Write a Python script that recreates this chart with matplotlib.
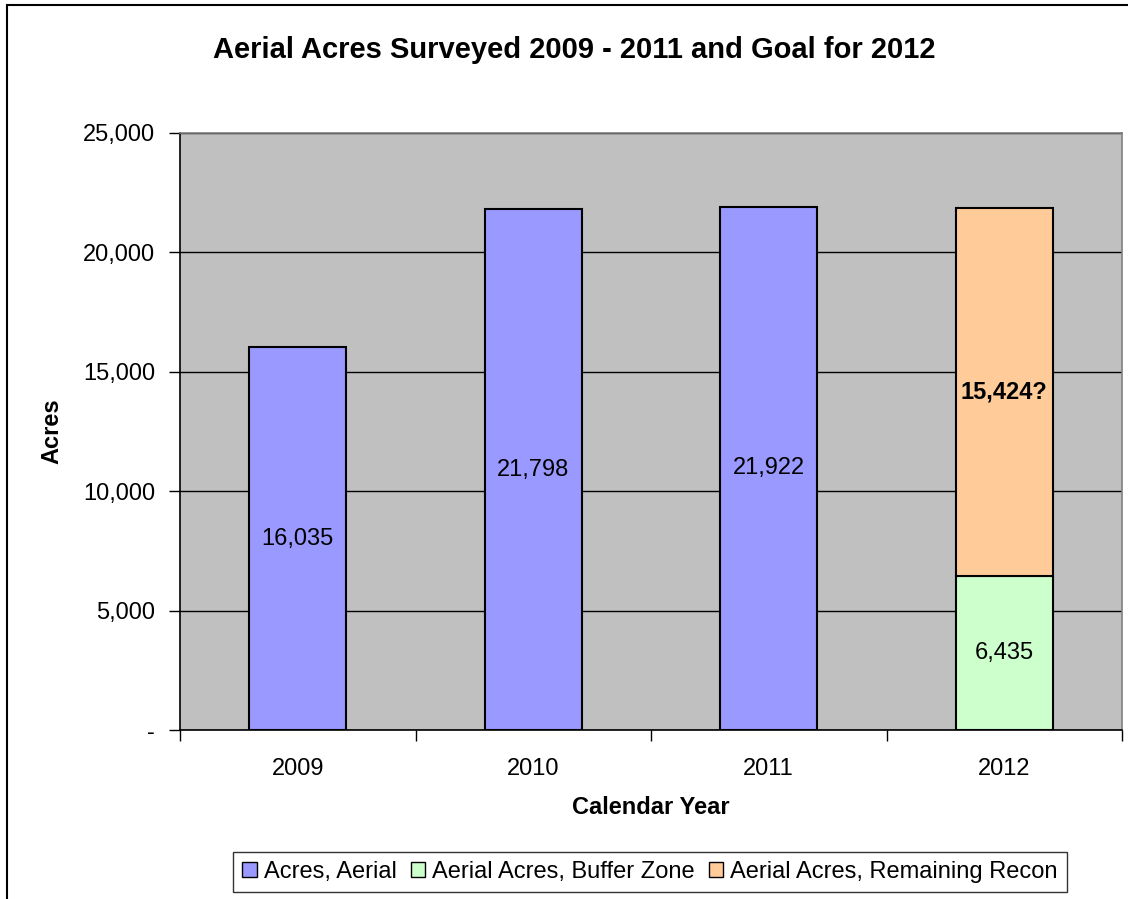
import matplotlib.pyplot as plt
from matplotlib.patches import Rectangle
from matplotlib.ticker import FuncFormatter, FixedLocator
import numpy as np

plt.rcParams['font.family'] = ['Liberation Sans', 'DejaVu Sans']

years = ['2009', '2010', '2011', '2012']
acres_aerial = [16035, 21798, 21922, 0]
buffer_zone = [0, 0, 0, 6435]
remaining_recon = [0, 0, 0, 15424]

c_aerial = '#9999FF'
c_buffer = '#CCFFCC'
c_recon = '#FFCC99'

fig = plt.figure(figsize=(11.28, 8.99), dpi=100)
ax = fig.add_axes([180 / 1128, 1 - 730 / 899, 942 / 1128, 597 / 899])
ax.set_facecolor('#C0C0C0')

x = np.arange(len(years))
w = 0.41
kw = dict(width=w, edgecolor='black', linewidth=1.5, zorder=3)
b1 = ax.bar(x[:3], acres_aerial[:3], color=c_aerial, label='Acres, Aerial', **kw)
b2 = ax.bar(x[3], buffer_zone[3], color=c_buffer, label='Aerial Acres, Buffer Zone', **kw)
b3 = ax.bar(x[3], remaining_recon[3], bottom=buffer_zone[3], color=c_recon,
            label='Aerial Acres, Remaining Recon', **kw)

# value labels in the middle of each segment
for i in range(3):
    ax.text(x[i], acres_aerial[i] / 2, f'{acres_aerial[i]:,}', ha='center', va='center',
            fontsize=17, zorder=4)
ax.text(x[3], buffer_zone[3] / 2, f'{buffer_zone[3]:,}', ha='center', va='center',
        fontsize=17, zorder=4)
ax.text(x[3], buffer_zone[3] + remaining_recon[3] / 2, f'{remaining_recon[3]:,}?',
        ha='center', va='center', fontsize=17, fontweight='bold', zorder=4)

ax.set_xlim(-0.5, 3.5)
ax.set_ylim(0, 25000)
ax.set_yticks(np.arange(0, 25001, 5000))
ax.yaxis.set_major_formatter(FuncFormatter(lambda v, p: '-' if v == 0 else f'{int(v):,}'))
ax.grid(axis='y', color='black', linewidth=1, zorder=1)
ax.set_axisbelow(True)

ax.set_xticks(x)
ax.set_xticklabels(years)
ax.xaxis.set_minor_locator(FixedLocator(np.arange(-0.5, 3.6, 1)))
ax.tick_params(axis='x', which='major', length=0, labelsize=17, pad=20)
ax.tick_params(axis='x', which='minor', length=8, width=1, direction='out')
ax.tick_params(axis='y', length=8, width=1, direction='out', labelsize=17, pad=10)

for s in ['top', 'right']:
    ax.spines[s].set_color('#808080')
    ax.spines[s].set_linewidth(1.2)
ax.spines['left'].set_linewidth(1.2)
ax.spines['bottom'].set_linewidth(1.2)

ax.set_xlabel('Calendar Year', fontsize=17, fontweight='bold', labelpad=12)
ax.set_ylabel('Acres', fontsize=17, fontweight='bold', labelpad=14)

fig.text(574 / 1128, 1 - 50 / 899, 'Aerial Acres Surveyed 2009 - 2011 and Goal for 2012',
         ha='center', va='center', fontsize=21, fontweight='bold')

leg = fig.legend(handles=[b1, b2, b3], loc='center', bbox_to_anchor=(650 / 1128, 1 - 872 / 899),
                 ncol=3, fontsize=17, frameon=True, fancybox=False, handlelength=0.6,
                 handleheight=0.6, handletextpad=0.3, columnspacing=0.6, borderpad=0.4)
leg.get_frame().set_edgecolor('black')
leg.get_frame().set_linewidth(1)
for h in leg.legend_handles:
    h.set_linewidth(1)

# outer chart border
fig.patches.append(Rectangle((7 / 1128, -0.1), 1.2, 1 - 5 / 899 + 0.1, transform=fig.transFigure,
                             fill=False, edgecolor='black', linewidth=1.5))

fig.savefig('out.png', dpi=100)
